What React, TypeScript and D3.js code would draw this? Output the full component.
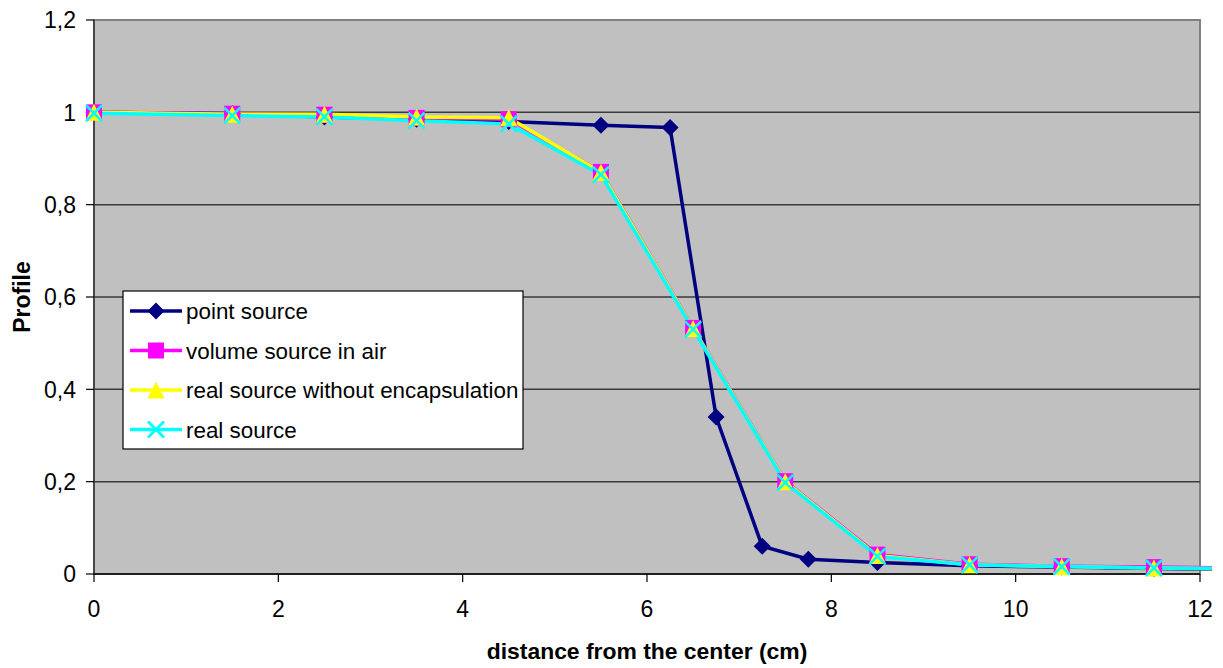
import React from "react";
import * as d3 from "d3";

const xPoint = [0, 1.5, 2.5, 3.5, 4.5, 5.5, 6.25, 6.75, 7.25, 7.75, 8.5, 9.5, 10.5, 11.5, 12.5];
const pointSource = [1.0, 0.997, 0.99, 0.985, 0.98, 0.972, 0.967, 0.34, 0.06, 0.032, 0.025, 0.018, 0.015, 0.012, 0.01];

const xOther = [0, 1.5, 2.5, 3.5, 4.5, 5.5, 6.5, 7.5, 8.5, 9.5, 10.5, 11.5, 12.5];
const volumeAir = [1.0, 0.997, 0.995, 0.988, 0.985, 0.871, 0.533, 0.201, 0.042, 0.021, 0.017, 0.015, 0.013];
const realNoEnc = [1.0, 0.996, 0.996, 0.99, 0.988, 0.87, 0.532, 0.2, 0.04, 0.02, 0.016, 0.013, 0.011];
const realSource = [0.998, 0.993, 0.99, 0.982, 0.975, 0.865, 0.53, 0.198, 0.038, 0.02, 0.016, 0.013, 0.011];

const xTicks = [0, 2, 4, 6, 8, 10, 12];
const yTicks = [0, 0.2, 0.4, 0.6, 0.8, 1.0, 1.2];

const seriesNames = ["point source", "volume source in air", "real source without encapsulation", "real source"];
const seriesColors = ["#000080", "#FF00FF", "#FFFF00", "#00FFFF"];
const seriesMarkers = ["diamond", "square", "triangle", "x"];

const FONT = "'Liberation Sans', Arial, sans-serif";

function Marker({ type, color, cx, cy }: { type: string; color: string; cx: number; cy: number }) {
  if (type === "diamond") {
    const r = 8.5;
    return <path d={`M${cx},${cy - r}L${cx + r},${cy}L${cx},${cy + r}L${cx - r},${cy}Z`} fill={color} />;
  }
  if (type === "square") {
    const r = 8;
    return <rect x={cx - r} y={cy - r} width={2 * r} height={2 * r} fill={color} />;
  }
  if (type === "triangle") {
    const r = 8.5;
    return <path d={`M${cx},${cy - r}L${cx + r},${cy + r}L${cx - r},${cy + r}Z`} fill={color} />;
  }
  const r = 8;
  return (
    <path d={`M${cx - r},${cy - r}L${cx + r},${cy + r}M${cx - r},${cy + r}L${cx + r},${cy - r}`} stroke={color} strokeWidth={2.5} fill="none" />
  );
}

export default function App() {
  const W = 1223;
  const H = 668;
  const left = 94, right = 1200, top = 20, bottom = 574;
  const x = d3.scaleLinear().domain([0, 12]).range([left, right]);
  const y = d3.scaleLinear().domain([0, 1.2]).range([bottom, top]);

  const series = [
    { xs: xPoint, ys: pointSource },
    { xs: xOther, ys: volumeAir },
    { xs: xOther, ys: realNoEnc },
    { xs: xOther, ys: realSource },
  ];

  const line = d3.line<[number, number]>().x((d) => x(d[0])).y((d) => y(d[1]));

  const legendX = 123, legendY = 291, legendW = 400, legendH = 158;

  return (
    <svg width={W} height={H} style={{ position: "absolute", left: 0, top: 0, background: "#fff" }} fontFamily={FONT}>
      <defs>
        <clipPath id="chartClip">
          <rect x={0} y={0} width={1212} height={H} />
        </clipPath>
      </defs>
      <rect x={left} y={top} width={right - left} height={bottom - top} fill="#C0C0C0" stroke="#808080" strokeWidth={2} />
      {yTicks.filter((t) => t > 0).map((t) => (
        <line key={"g" + t} x1={left} x2={right} y1={y(t)} y2={y(t)} stroke={t === 1.2 ? "#808080" : "#3a3a3a"} strokeWidth={t === 1.2 ? 2 : 1.5} />
      ))}
      <line x1={left} x2={left} y1={top} y2={bottom} stroke="#333" strokeWidth={1.5} />
      <line x1={left} x2={right} y1={bottom} y2={bottom} stroke="#000" strokeWidth={1.5} />
      {yTicks.map((t) => (
        <g key={"y" + t}>
          <line x1={left - 8} x2={left} y1={y(t)} y2={y(t)} stroke="#000" strokeWidth={1.2} />
          <text x={76} y={y(t)} dy="0.36em" textAnchor="end" fontSize={23} fill="#000">
            {String(t).replace(".", ",")}
          </text>
        </g>
      ))}
      {xTicks.map((t) => (
        <g key={"x" + t}>
          <line x1={x(t)} x2={x(t)} y1={bottom} y2={bottom + 8} stroke="#000" strokeWidth={1.2} />
          <text x={x(t)} y={617} textAnchor="middle" fontSize={23} fill="#000">
            {t}
          </text>
        </g>
      ))}
      <g clipPath="url(#chartClip)">
        {series.map((s, i) => (
          <path
            key={"l" + i}
            d={line(s.xs.map((v, j) => [v, s.ys[j]] as [number, number])) || ""}
            fill="none"
            stroke={seriesColors[i]}
            strokeWidth={3.5}
            strokeLinejoin="round"
          />
        ))}
        {series.map((s, i) => (
          <g key={"m" + i}>
            {s.xs.map((v, j) => (
              <Marker key={j} type={seriesMarkers[i]} color={seriesColors[i]} cx={x(v)} cy={y(s.ys[j])} />
            ))}
          </g>
        ))}
      </g>
      <rect x={legendX} y={legendY} width={legendW} height={legendH} fill="#fff" stroke="#000" strokeWidth={1.2} />
      {seriesNames.map((n, i) => {
        const cy = legendY + 20 + i * 39.5;
        return (
          <g key={"lg" + i}>
            <line x1={130} x2={182} y1={cy} y2={cy} stroke={seriesColors[i]} strokeWidth={3.5} />
            <Marker type={seriesMarkers[i]} color={seriesColors[i]} cx={156} cy={cy} />
            <text x={186} y={cy} dy="0.36em" fontSize={22.4} fill="#000">
              {n}
            </text>
          </g>
        );
      })}
      <text x={647} y={659} textAnchor="middle" fontSize={22.9} fontWeight="bold" fill="#000">
        distance from the center (cm)
      </text>
      <text transform={`translate(30,${(top + bottom) / 2}) rotate(-90)`} textAnchor="middle" fontSize={23} fontWeight="bold" fill="#000">
        Profile
      </text>
    </svg>
  );
}
